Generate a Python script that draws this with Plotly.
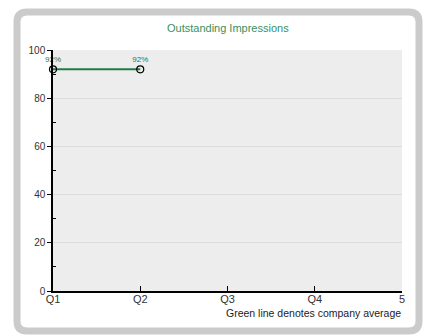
import plotly.graph_objects as go

quarters = ["Q1", "Q2"]
x_pos = [0, 1]
values = [92, 92]
labels = ["92%", "92%"]
tick_vals = [0, 1, 2, 3, 4]
tick_text = ["Q1", "Q2", "Q3", "Q4", "5"]
title = "Outstanding Impressions"
caption = "Green line denotes company average"

W, H = 425, 335
L, R, T, B = 53, 23, 50, 44
pw, ph = W - L - R, H - T - B

def px(x):
    return (x - L) / pw

def py(y):
    return (H - B - y) / ph

fig = go.Figure()
fig.add_trace(go.Scatter(
    x=x_pos, y=values, mode="lines+markers+text",
    text=labels, textposition="top center",
    textfont=dict(size=8, color="#1f7a4a", family="Liberation Sans"),
    line=dict(color="#1f7a4a", width=2),
    marker=dict(symbol="circle-open", size=7, color="black", line=dict(width=1.2, color="black")),
    cliponaxis=False, hoverinfo="skip", showlegend=False,
))

# rounded panel border
x0, x1, y0, y1 = 17, 419, 12, 331
r = 10
path = (
    f"M {px(x0 + r)} {py(y0)} L {px(x1 - r)} {py(y0)} "
    f"Q {px(x1)} {py(y0)} {px(x1)} {py(y0 + r)} "
    f"L {px(x1)} {py(y1 - r)} Q {px(x1)} {py(y1)} {px(x1 - r)} {py(y1)} "
    f"L {px(x0 + r)} {py(y1)} Q {px(x0)} {py(y1)} {px(x0)} {py(y1 - r)} "
    f"L {px(x0)} {py(y0 + r)} Q {px(x0)} {py(y0)} {px(x0 + r)} {py(y0)} Z"
)
fig.add_shape(type="path", path=path, xref="paper", yref="paper",
              line=dict(color="#cbcbcb", width=7), fillcolor="rgba(0,0,0,0)", layer="below")

fig.add_annotation(text=title, x=px(228), y=py(28), xref="paper", yref="paper",
                   showarrow=False, xanchor="center", yanchor="middle",
                   font=dict(size=11, color="#3a8f60", family="Liberation Sans"))
fig.add_annotation(text=caption, x=px(403), y=py(313), xref="paper", yref="paper",
                   showarrow=False, xanchor="right", yanchor="middle",
                   font=dict(size=10.5, color="#222222", family="Liberation Sans"))

fig.update_layout(
    width=W, height=H, margin=dict(l=L, r=R, t=T, b=B),
    paper_bgcolor="white", plot_bgcolor="#ededed",
    font=dict(family="Liberation Sans", size=10, color="#333333"),
    xaxis=dict(range=[0, 4], tickvals=tick_vals, ticktext=tick_text,
               showgrid=False, zeroline=False, showline=True, linecolor="black", linewidth=1.5,
               ticks="inside", ticklen=5, tickcolor="black", tickwidth=1,
               ticklabelstandoff=-3,
               tickfont=dict(size=11, color="#333333")),
    yaxis=dict(range=[0, 100], tickvals=[0, 20, 40, 60, 80, 100],
               showgrid=True, gridcolor="#dcdcdc", gridwidth=1, zeroline=False,
               showline=True, linecolor="black", linewidth=1.5,
               ticks="outside", ticklen=4, tickcolor="black", tickwidth=1,
               tickfont=dict(size=10, color="#333333"),
               minor=dict(tickvals=[10, 30, 50, 70, 90], ticks="inside", ticklen=3,
                          tickcolor="black", showgrid=False)),
)

fig.write_html("out.html")
